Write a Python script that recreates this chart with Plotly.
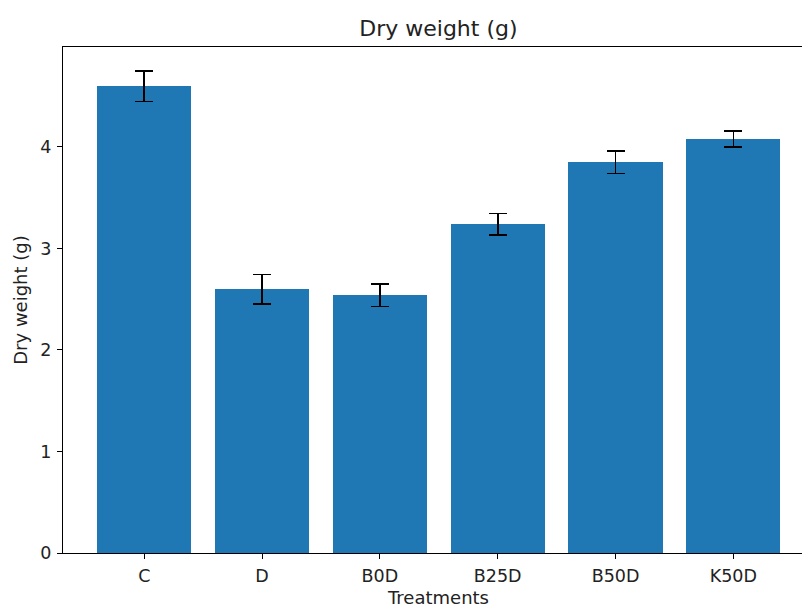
import plotly.graph_objects as go

treatments = ["C", "D", "B0D", "B25D", "B50D", "K50D"]
dry_weight = [4.60, 2.60, 2.54, 3.24, 3.85, 4.08]
dry_weight_err = [0.15, 0.145, 0.11, 0.105, 0.11, 0.08]

fig = go.Figure()
fig.add_trace(go.Bar(
    x=treatments,
    y=dry_weight,
    width=0.8,
    marker=dict(color="#1f77b4", line=dict(width=0)),
    error_y=dict(type="data", array=dry_weight_err, visible=True,
                 color="black", thickness=1.6, width=9),
))

font_family = "DejaVu Sans"
fig.update_layout(
    width=804, height=608,
    margin=dict(l=63, r=2, t=47, b=55),
    plot_bgcolor="white", paper_bgcolor="white",
    font=dict(family=font_family, size=17.5, color="#222"),
    showlegend=False,
    title=dict(text="Dry weight (g)", x=0.508, xref="paper", xanchor="center",
               y=1, yref="container", yanchor="top", pad=dict(t=21),
               font=dict(size=22, family=font_family, color="#222")),
    bargap=0,
    annotations=[dict(text="Treatments", xref="paper", yref="paper",
                      x=0.508, y=0, xanchor="center", yanchor="middle",
                      yshift=-44, showarrow=False, borderpad=0,
                      font=dict(size=18, family=font_family, color="#222"))],
)
fig.update_xaxes(
    type="category", range=[-0.69, 5.583],
    showline=True, linecolor="black", linewidth=1, mirror=True,
    ticks="outside", ticklen=5, tickwidth=1, tickcolor="black",
    ticklabelstandoff=2,
    showgrid=False, zeroline=False,
)
fig.update_yaxes(
    range=[0, 4.985], tickvals=[0, 1, 2, 3, 4],
    showline=True, linecolor="black", linewidth=1, mirror=False,
    ticks="outside", ticklen=5, tickwidth=1, tickcolor="black",
    ticklabelstandoff=2,
    showgrid=False, zeroline=False,
    title=dict(text="Dry weight (g)", standoff=8, font=dict(size=18)),
)

fig.write_html("out.html")
